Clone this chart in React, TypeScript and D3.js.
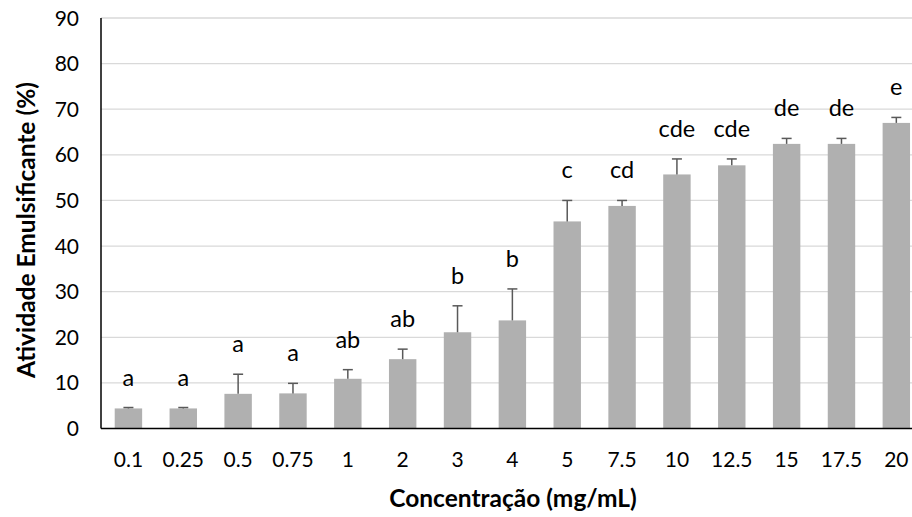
import React from "react";
import * as d3 from "d3";

const categories = ["0.1", "0.25", "0.5", "0.75", "1", "2", "3", "4", "5", "7.5", "10", "12.5", "15", "17.5", "20"];
const values = [4.4, 4.4, 7.6, 7.7, 10.9, 15.2, 21.1, 23.7, 45.4, 48.8, 55.7, 57.7, 62.4, 62.4, 67.0];
const errors = [0.2, 0.2, 4.3, 2.2, 2.0, 2.2, 5.8, 6.9, 4.6, 1.2, 3.4, 1.4, 1.2, 1.2, 1.2];
const letters = ["a", "a", "a", "a", "ab", "ab", "b", "b", "c", "cd", "cde", "cde", "de", "de", "e"];
const yTicks = [0, 10, 20, 30, 40, 50, 60, 70, 80, 90];

const W = 912;
const H = 517;
const left = 101;
const top = 18;
const bottom = 428.5;
const step = 54.85;

export default function App() {
  if (typeof document !== "undefined") document.body.style.margin = "0";
  const x = d3
    .scaleBand<string>()
    .domain(categories)
    .range([left, left + step * categories.length])
    .paddingInner(0.5)
    .paddingOuter(0.25);
  const y = d3.scaleLinear().domain([0, 90]).range([bottom, top]);
  const font = "Lato, 'Open Sans', sans-serif";
  const bw = x.bandwidth();
  return (
    <svg width={W} height={H} style={{ display: "block", background: "#fff" }} fontFamily={font}>
      {yTicks.map((t) => (
        <g key={t}>
          {t > 0 && <line x1={left} x2={W} y1={y(t)} y2={y(t)} stroke="#d9d9d9" strokeWidth={1.3} />}
          <text x={79} y={y(t)} dy="0.36em" textAnchor="end" fontSize={21} fill="#000">
            {t}
          </text>
        </g>
      ))}
      {categories.map((c, i) => {
        const cx = (x(c) as number) + bw / 2;
        const yTop = y(values[i] + errors[i]);
        return (
          <g key={c}>
            <rect x={x(c)} y={y(values[i])} width={bw} height={bottom - y(values[i])} fill="#b0b0b0" />
            <line x1={cx} x2={cx} y1={y(values[i])} y2={yTop} stroke="#595959" strokeWidth={1.5} />
            <line x1={cx - 5} x2={cx + 5} y1={yTop} y2={yTop} stroke="#595959" strokeWidth={1.5} />
            <text x={cx} y={yTop - 22} textAnchor="middle" fontSize={23.5} fill="#000">
              {letters[i]}
            </text>
            <text x={cx} y={467} textAnchor="middle" fontSize={21} fill="#000">
              {c}
            </text>
          </g>
        );
      })}
      <line x1={left} x2={left} y1={top} y2={bottom} stroke="#000" strokeWidth={1.5} />
      <line x1={left} x2={W} y1={bottom} y2={bottom} stroke="#000" strokeWidth={1.5} />
      <text
        transform={`translate(35,230) rotate(-90)`}
        textAnchor="middle"
        fontSize={24.5}
        fontWeight="bold"
        fill="#000"
      >
        Atividade Emulsificante (%)
      </text>
      <text x={513} y={507} textAnchor="middle" fontSize={24.5} fontWeight="bold" fill="#000">
        Concentração (mg/mL)
      </text>
    </svg>
  );
}
